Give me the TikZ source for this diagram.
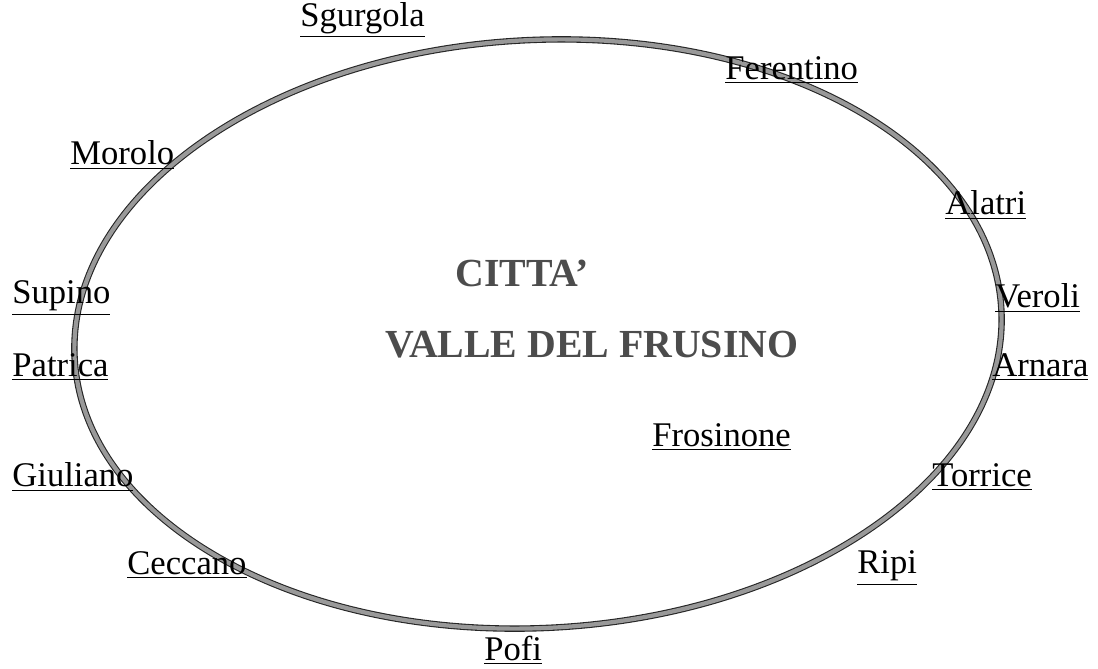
\documentclass[tikz,border=0pt]{standalone}
\usepackage{fontspec}
\setmainfont{Liberation Serif}
\usepackage{tikz}
\usetikzlibrary{positioning}
\tikzset{
    town/.style={anchor=west, inner sep=0pt, font=\fontsize{17.3}{20}\selectfont},
    title/.style={anchor=west, inner sep=0pt, text=black!70, font=\fontsize{19.9}{24}\selectfont\bfseries},
    ring/.style={draw=black!85, line width=0.55pt, double=black!40, double distance=2.1pt},
}
\newcommand{\town}[1]{\underline{#1}}

\begin{document}
\begin{tikzpicture}
        [x=0.5pt, y=-0.5pt]
        \useasboundingbox (0,0) rectangle (1098,669);

        % the valley
        \draw[ring, rotate around={3:(538,334)}] (538,334) ellipse [x radius=464, y radius=294];

        \node[title] (citta) at (455,273) {CITTA'};
        \node[title] (valle) at (385,345) {VALLE DEL FRUSINO};

        \node[town] (sgurgola) at (300,20) {\town{Sgurgola}};
        \node[town] (ferentino) at (725,70) {\town{Ferentino}};
        \node[town] (morolo) at (70,155) {\town{Morolo}};
        \node[town] (alatri) at (945,205) {\town{Alatri}};
        \node[town] (supino) at (12,298) {\town{Supino}};
        \node[town] (veroli) at (995,298) {\town{Veroli}};
        \node[town] (patrica) at (12,367) {\town{Patrica}};
        \node[town] (arnara) at (992,367) {\town{Arnara}};
        \node[town] (frosinone) at (652,437) {\town{Frosinone}};
        \node[town] (giuliano) at (12,477) {\town{Giuliano}};
        \node[town] (torrice) at (932,477) {\town{Torrice}};
        \node[town] (ceccano) at (127,565) {\town{Ceccano}};
        \node[town] (ripi) at (857,568) {\town{Ripi}};
        \node[town] (pofi) at (484,650) {\town{Pofi}};

\end{tikzpicture}
\end{document}
